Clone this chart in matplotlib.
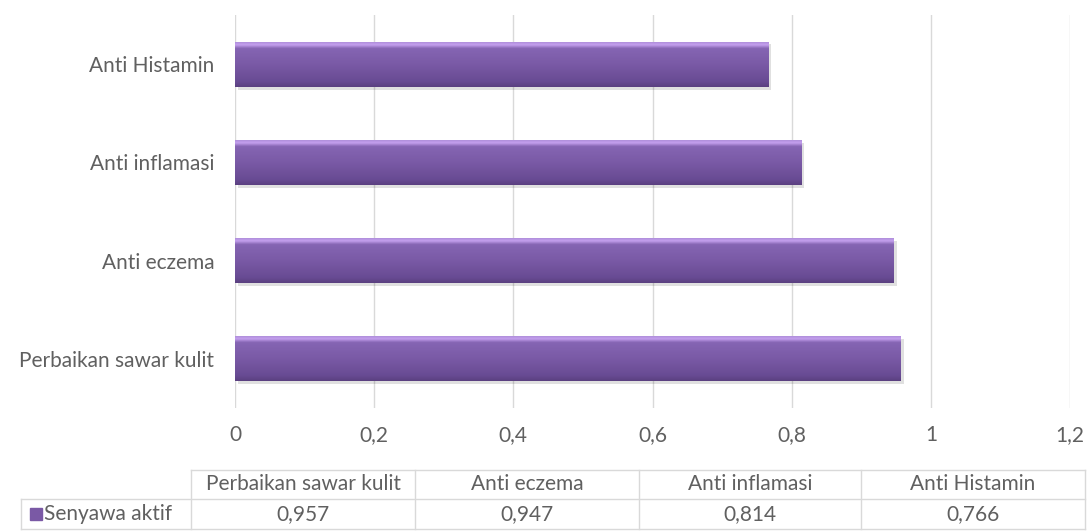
import numpy as np
import matplotlib
matplotlib.use("Agg")
import matplotlib.pyplot as plt
from matplotlib.lines import Line2D
from matplotlib.patches import Rectangle
from matplotlib.colors import LinearSegmentedColormap

categories = ["Perbaikan sawar kulit", "Anti eczema", "Anti inflamasi", "Anti Histamin"]
values = [0.957, 0.947, 0.814, 0.766]
value_labels = ["0,957", "0,947", "0,814", "0,766"]
series_name = "Senyawa aktif"
xticks = [0, 0.2, 0.4, 0.6, 0.8, 1.0, 1.2]
xtick_labels = ["0", "0,2", "0,4", "0,6", "0,8", "1", "1,2"]

W, H = 1087, 532
fig = plt.figure(figsize=(W / 100, H / 100), dpi=100)
plt.rcParams['font.family'] = ['Lato', 'DejaVu Sans']
txt = "#606060"
grid_c = "#d9d9d9"
FS = 15

ax = fig.add_axes([235 / W, 1 - 408 / H, (1070 - 235) / W, (408 - 15) / H])
ax.set_xlim(0, 1.2)
ax.set_ylim(-0.5, len(categories) - 0.5)
for s in ax.spines.values():
    s.set_visible(False)
ax.set_xticks(xticks)
ax.set_xticklabels(xtick_labels, color=txt, fontsize=FS)
ax.tick_params(axis='x', length=0, pad=12)
ax.set_yticks(range(len(categories)))
ax.set_yticklabels(categories, color=txt, fontsize=FS)
ax.tick_params(axis='y', length=0, pad=15)
ax.grid(axis='x', color=grid_c, linewidth=1)
ax.set_axisbelow(True)

base = "#7a59a5"
bars = ax.barh(range(len(categories)), values, height=0.46, color=base, zorder=2)

cmap = LinearSegmentedColormap.from_list(
    "bar", [(0.0, "#5a4080"), (0.12, "#684b93"), (0.5, "#7a5aa6"),
            (0.84, "#8565b3"), (0.92, "#c4a0ee"), (1.0, "#a888d4")])
grad = np.linspace(0, 1, 256).reshape(-1, 1)
for b in bars:
    x0, y0, w, h = b.get_x(), b.get_y(), b.get_width(), b.get_height()
    sh = Rectangle((x0 + 0.004, y0 - 0.03), w, h, color="#000000", alpha=0.12, zorder=1, lw=0)
    ax.add_patch(sh)
    im = ax.imshow(grad, extent=(x0, x0 + w, y0, y0 + h), origin='lower',
                   cmap=cmap, aspect='auto', zorder=3, interpolation='bilinear')
    im.set_clip_path(b)
ax.set_xlim(0, 1.2)
ax.set_ylim(-0.5, len(categories) - 0.5)

# data table
cols = [191, 415, 639, 861, 1085]
y_top, y_mid, y_bot = 470, 499, 529
left = 21

def fx(px):
    return px / W

def fy(py):
    return 1 - py / H

lines = []
lines.append(Line2D([fx(cols[0]), fx(cols[-1])], [fy(y_top)] * 2))
lines.append(Line2D([fx(left), fx(cols[-1])], [fy(y_mid)] * 2))
lines.append(Line2D([fx(left), fx(cols[-1])], [fy(y_bot)] * 2))
for c in cols:
    lines.append(Line2D([fx(c)] * 2, [fy(y_top), fy(y_bot)]))
lines.append(Line2D([fx(left)] * 2, [fy(y_mid), fy(y_bot)]))
for ln in lines:
    ln.set_color(grid_c)
    ln.set_linewidth(1)
    fig.add_artist(ln)

for i, cat in enumerate(categories):
    cx = (cols[i] + cols[i + 1]) / 2
    fig.text(fx(cx), fy((y_top + y_mid) / 2), cat, ha='center', va='center', color=txt, fontsize=FS)
    fig.text(fx(cx), fy((y_mid + y_bot) / 2), value_labels[i], ha='center', va='center', color=txt, fontsize=FS)

fig.add_artist(Rectangle((fx(30), fy(520)), 12 / W, 12 / H, color=base, transform=fig.transFigure))
fig.text(fx(44), fy((y_mid + y_bot) / 2), series_name, ha='left', va='center', color=txt, fontsize=FS)

fig.savefig("out.png", dpi=100)
